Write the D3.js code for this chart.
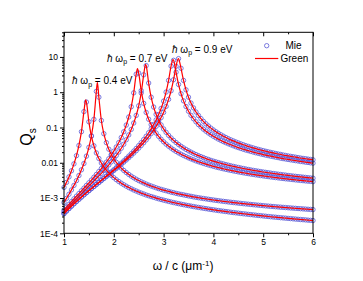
<!DOCTYPE html>
<html><head><meta charset="utf-8">
<script src="https://cdn.jsdelivr.net/npm/d3@7"></script>
<style>body{margin:0;background:#fff}text{font-family:"Liberation Sans",Arial,sans-serif}</style>
</head><body><svg id="c" width="363" height="281"></svg>
<script>
const omega = [1.00,1.05,1.10,1.15,1.20,1.25,1.30,1.35,1.40,1.45,1.50,1.55,1.60,1.65,1.70,1.75,1.80,1.85,1.90,1.95,
2.00,2.05,2.10,2.15,2.20,2.25,2.30,2.35,2.40,2.45,2.50,2.55,2.60,2.65,2.70,2.75,2.80,2.85,2.90,2.95,
3.00,3.05,3.10,3.15,3.20,3.25,3.30,3.35,3.40,3.45,3.50,3.55,3.60,3.65,3.70,3.75,3.80,3.85,3.90,3.95,
4.00,4.05,4.10,4.15,4.20,4.25,4.30,4.35,4.40,4.45,4.50,4.55,4.60,4.65,4.70,4.75,4.80,4.85,4.90,4.95,
5.00,5.05,5.10,5.15,5.20,5.25,5.30,5.35,5.40,5.45,5.50,5.55,5.60,5.65,5.70,5.75,5.80,5.85,5.90,5.95,6.00];

// hbar omega_p = 0.4 eV (two curves)
const qs04a = [2.00e-3,2.78e-3,3.97e-3,5.92e-3,9.31e-3,0.0159,0.0310,0.0760,0.282,0.526,0.145,0.0569,0.0303,0.0190,0.0132,9.85e-3,7.68e-3,6.21e-3,5.16e-3,4.38e-3,3.78e-3,
3.32e-3,2.94e-3,2.64e-3,2.38e-3,2.17e-3,1.98e-3,1.83e-3,1.69e-3,1.58e-3,1.47e-3,1.38e-3,1.30e-3,1.22e-3,1.16e-3,1.10e-3,1.05e-3,9.96e-4,9.51e-4,9.09e-4,8.71e-4,
8.36e-4,8.03e-4,7.72e-4,7.44e-4,7.18e-4,6.93e-4,6.70e-4,6.48e-4,6.28e-4,6.09e-4,5.91e-4,5.73e-4,5.57e-4,5.42e-4,5.27e-4,5.13e-4,5.00e-4,4.87e-4,4.75e-4,4.64e-4,
4.53e-4,4.42e-4,4.32e-4,4.23e-4,4.14e-4,4.05e-4,3.96e-4,3.88e-4,3.80e-4,3.73e-4,3.65e-4,3.58e-4,3.52e-4,3.45e-4,3.39e-4,3.33e-4,3.27e-4,3.21e-4,3.16e-4,3.10e-4,
3.05e-4,3.00e-4,2.95e-4,2.90e-4,2.86e-4,2.81e-4,2.77e-4,2.73e-4,2.69e-4,2.65e-4,2.61e-4,2.57e-4,2.53e-4,2.50e-4,2.46e-4,2.43e-4,2.40e-4,2.36e-4,2.33e-4,2.30e-4];
const qs04b = [7.49e-4,9.76e-4,1.28e-3,1.70e-3,2.28e-3,3.11e-3,4.35e-3,6.30e-3,9.53e-3,0.0154,0.0274,0.0579,0.170,1.06,0.723,0.158,0.0666,0.0372,0.0242,0.0172,0.0130,
0.0103,8.43e-3,7.07e-3,6.06e-3,5.29e-3,4.67e-3,4.17e-3,3.76e-3,3.42e-3,3.13e-3,2.89e-3,2.68e-3,2.49e-3,2.33e-3,2.19e-3,2.07e-3,1.95e-3,1.85e-3,1.76e-3,1.68e-3,
1.61e-3,1.54e-3,1.47e-3,1.42e-3,1.36e-3,1.31e-3,1.27e-3,1.23e-3,1.19e-3,1.15e-3,1.12e-3,1.08e-3,1.05e-3,1.02e-3,9.96e-4,9.70e-4,9.46e-4,9.23e-4,9.01e-4,8.80e-4,
8.60e-4,8.41e-4,8.23e-4,8.06e-4,7.90e-4,7.74e-4,7.59e-4,7.45e-4,7.31e-4,7.17e-4,7.05e-4,6.92e-4,6.80e-4,6.69e-4,6.58e-4,6.47e-4,6.37e-4,6.27e-4,6.18e-4,6.08e-4,
5.99e-4,5.91e-4,5.82e-4,5.74e-4,5.66e-4,5.58e-4,5.51e-4,5.44e-4,5.37e-4,5.30e-4,5.23e-4,5.17e-4,5.10e-4,5.04e-4,4.98e-4,4.92e-4,4.86e-4,4.81e-4,4.75e-4,4.70e-4];
// hbar omega_p = 0.7 eV
const qs07a = [4.58e-4,5.52e-4,6.63e-4,7.93e-4,9.47e-4,1.13e-3,1.34e-3,1.60e-3,1.90e-3,2.27e-3,2.70e-3,3.23e-3,3.88e-3,4.67e-3,5.64e-3,6.87e-3,8.42e-3,0.0104,0.0130,0.0165,0.0213,
0.0280,0.0374,0.0520,0.0757,0.117,0.198,0.387,0.959,3.25,3.49,1.11,0.483,0.267,0.171,0.120,0.0891,0.0695,0.0560,0.0464,0.0393,
0.0338,0.0295,0.0261,0.0233,0.0210,0.0191,0.0175,0.0161,0.0149,0.0138,0.0129,0.0121,0.0113,0.0107,0.0101,9.58e-3,9.11e-3,8.68e-3,8.29e-3,7.92e-3,
7.59e-3,7.29e-3,7.01e-3,6.75e-3,6.50e-3,6.28e-3,6.07e-3,5.87e-3,5.69e-3,5.51e-3,5.35e-3,5.20e-3,5.05e-3,4.92e-3,4.79e-3,4.67e-3,4.55e-3,4.44e-3,4.33e-3,4.23e-3,
4.14e-3,4.05e-3,3.96e-3,3.88e-3,3.80e-3,3.72e-3,3.65e-3,3.58e-3,3.51e-3,3.45e-3,3.39e-3,3.33e-3,3.27e-3,3.21e-3,3.16e-3,3.11e-3,3.06e-3,3.01e-3,2.97e-3,2.92e-3];
const qs07b = [4.01e-4,4.81e-4,5.74e-4,6.82e-4,8.09e-4,9.56e-4,1.13e-3,1.33e-3,1.57e-3,1.84e-3,2.17e-3,2.56e-3,3.02e-3,3.57e-3,4.23e-3,5.03e-3,6.01e-3,7.21e-3,8.71e-3,0.0106,0.0130,
0.0161,0.0202,0.0258,0.0335,0.0448,0.0615,0.0882,0.134,0.220,0.412,0.954,3.11,5.69,1.82,0.723,0.380,0.235,0.161,0.118,0.0912,
0.0729,0.0599,0.0504,0.0431,0.0375,0.0330,0.0294,0.0264,0.0239,0.0218,0.0200,0.0184,0.0171,0.0159,0.0149,0.0140,0.0131,0.0124,0.0117,0.0111,
0.0106,0.0101,9.67e-3,9.25e-3,8.87e-3,8.52e-3,8.20e-3,7.89e-3,7.61e-3,7.35e-3,7.11e-3,6.88e-3,6.66e-3,6.46e-3,6.27e-3,6.09e-3,5.93e-3,5.77e-3,5.62e-3,5.47e-3,
5.34e-3,5.21e-3,5.09e-3,4.97e-3,4.86e-3,4.75e-3,4.65e-3,4.55e-3,4.46e-3,4.37e-3,4.28e-3,4.20e-3,4.12e-3,4.05e-3,3.98e-3,3.91e-3,3.84e-3,3.77e-3,3.71e-3,3.65e-3];
// hbar omega_p = 0.9 eV
const qs09a = [3.59e-4,4.25e-4,5.01e-4,5.87e-4,6.85e-4,7.96e-4,9.23e-4,1.07e-3,1.23e-3,1.42e-3,1.63e-3,1.86e-3,2.14e-3,2.45e-3,2.80e-3,3.20e-3,3.67e-3,4.20e-3,4.82e-3,5.53e-3,6.34e-3,
7.30e-3,8.42e-3,9.74e-3,0.0113,0.0132,0.0154,0.0181,0.0214,0.0255,0.0306,0.0371,0.0454,0.0564,0.0711,0.0915,0.121,0.164,0.232,0.347,0.559,
1.01,2.16,5.50,8.03,3.69,1.66,0.907,0.569,0.392,0.288,0.221,0.177,0.145,0.121,0.104,0.0896,0.0786,0.0698,0.0624,0.0563,
0.0512,0.0468,0.0431,0.0398,0.0370,0.0345,0.0323,0.0303,0.0285,0.0269,0.0255,0.0242,0.0230,0.0220,0.0210,0.0201,0.0192,0.0185,0.0178,0.0171,
0.0165,0.0159,0.0154,0.0149,0.0144,0.0140,0.0135,0.0131,0.0128,0.0124,0.0121,0.0118,0.0115,0.0112,0.0109,0.0107,0.0104,0.0102,9.96e-3,9.75e-3];
const qs09b = [3.64e-4,4.31e-4,5.06e-4,5.92e-4,6.90e-4,8.00e-4,9.25e-4,1.07e-3,1.23e-3,1.41e-3,1.61e-3,1.85e-3,2.11e-3,2.40e-3,2.74e-3,3.12e-3,3.56e-3,4.06e-3,4.62e-3,5.28e-3,6.02e-3,
6.88e-3,7.87e-3,9.04e-3,0.0104,0.0120,0.0139,0.0161,0.0188,0.0220,0.0260,0.0308,0.0369,0.0445,0.0544,0.0672,0.0844,0.108,0.142,0.191,0.268,
0.396,0.628,1.10,2.26,5.43,8.95,4.77,2.16,1.17,0.723,0.493,0.360,0.275,0.219,0.179,0.149,0.127,0.110,0.0960,0.0850,
0.0760,0.0684,0.0621,0.0567,0.0521,0.0481,0.0446,0.0416,0.0389,0.0365,0.0343,0.0324,0.0306,0.0291,0.0276,0.0263,0.0251,0.0240,0.0230,0.0221,
0.0212,0.0204,0.0197,0.0190,0.0183,0.0177,0.0172,0.0166,0.0161,0.0156,0.0152,0.0148,0.0144,0.0140,0.0136,0.0133,0.0130,0.0127,0.0124,0.0121];

// resonance peak (line only) for each curve, same order as series
const peakOmega = [1.436, 1.67, 2.476, 2.638, 3.188, 3.295];
const peakQs = [0.61, 1.9, 4.7, 6.2, 8.4, 9.0];

const xTicks = [1,2,3,4,5,6];
const xMinorTicks = [1.5,2.5,3.5,4.5,5.5];
const yTicks = [1e-4,1e-3,0.01,0.1,1,10];
const yTickLabels = ["1E-4","1E-3","0.01","0.1","1","10"];
const annotations = ["0.4","0.7","0.9"];

const series = [qs04a, qs04b, qs07a, qs07b, qs09a, qs09b];

const svg = d3.select("#c");
const L = 64, R = 313, T = 32.3, B = 233.3;
const x = d3.scaleLinear().domain([1,6]).range([L,R]);
const y = d3.scaleLog().domain([1e-4,50]).range([B,T]);

const yMinor = [];
[1e-4,1e-3,1e-2,1e-1,1,10].forEach(d=>{for(let k=2;k<=9;k++){const v=d*k; if(v<=50) yMinor.push(v);}});

const mieColor = "#5a5ad6", lineColor = "#ff0000";

// markers
series.forEach((q)=>{
  svg.append("g").selectAll("circle").data(omega).join("circle")
    .attr("cx",(d)=>x(d)).attr("cy",(d,i)=>y(q[i])).attr("r",2.2)
    .attr("fill","none").attr("stroke",mieColor).attr("stroke-width",0.8);
});
// lines
const line = d3.line().x(d=>x(d[0])).y(d=>y(d[1])).curve(d3.curveMonotoneX);
series.forEach((q,k)=>{
  const pts = omega.map((d,i)=>[d,q[i]]);
  pts.push([peakOmega[k],peakQs[k]]);
  pts.sort((a,b)=>a[0]-b[0]);
  svg.append("path").attr("d",line(pts)).attr("fill","none")
    .attr("stroke",lineColor).attr("stroke-width",1.2);
});

// axes
function styleAxis(g){g.select(".domain").remove(); g.selectAll("text").attr("font-size",8.5).attr("font-family","Liberation Sans, Arial, sans-serif").attr("fill","#000");}
svg.append("g").attr("transform",`translate(0,${B})`)
  .call(d3.axisBottom(x).tickValues(xTicks).tickFormat(d3.format("d")).tickSize(4).tickPadding(2)).call(styleAxis);
svg.append("g").attr("transform",`translate(0,${B})`)
  .call(d3.axisBottom(x).tickValues(xMinorTicks).tickFormat("").tickSize(2)).call(styleAxis);
svg.append("g").attr("transform",`translate(0,${T})`)
  .call(d3.axisTop(x).tickValues(xTicks).tickFormat("").tickSize(-4)).call(styleAxis);
svg.append("g").attr("transform",`translate(0,${T})`)
  .call(d3.axisTop(x).tickValues(xMinorTicks).tickFormat("").tickSize(-2)).call(styleAxis);
svg.append("g").attr("transform",`translate(${L},0)`)
  .call(d3.axisLeft(y).tickValues(yTicks).tickFormat((d,i)=>yTickLabels[i]).tickSize(4).tickPadding(2)).call(styleAxis);
svg.append("g").attr("transform",`translate(${L},0)`)
  .call(d3.axisLeft(y).tickValues(yMinor).tickFormat("").tickSize(2)).call(styleAxis);

svg.append("rect").attr("x",L).attr("y",T).attr("width",R-L).attr("height",B-T)
  .attr("fill","none").attr("stroke","#000").attr("stroke-width",1);

// axis titles
const xt = svg.append("text").attr("x",183).attr("y",270).attr("text-anchor","middle").attr("font-size",12);
xt.append("tspan").text("ω / c (μm");
xt.append("tspan").attr("dy",-4.5).attr("font-size",8).text("-1");
xt.append("tspan").attr("dy",4.5).text(")");

const yt = svg.append("text").attr("transform","translate(32,137) rotate(-90)").attr("text-anchor","middle").attr("font-size",16);
yt.append("tspan").text("Q");
yt.append("tspan").attr("dy",4).attr("font-size",10).text("s");

// annotations
const annPos = [[72,84],[107,61.5],[172,52.5]];
annotations.forEach((a,i)=>{
  const t = svg.append("text").attr("x",annPos[i][0]).attr("y",annPos[i][1]).attr("font-size",10);
  t.append("tspan").attr("font-style","italic").text("ħ ");
  t.append("tspan").text("ω");
  t.append("tspan").attr("dy",2.5).attr("font-size",7).text("p");
  t.append("tspan").attr("dy",-2.5).text(" = " + a + " eV");
});

// legend
svg.append("circle").attr("cx",266.7).attr("cy",45.7).attr("r",2.2).attr("fill","none").attr("stroke",mieColor).attr("stroke-width",0.8);
svg.append("text").attr("x",285.5).attr("y",49.3).attr("font-size",10).text("Mie");
svg.append("line").attr("x1",255).attr("x2",278.3).attr("y1",58.5).attr("y2",58.5).attr("stroke",lineColor).attr("stroke-width",1.2);
svg.append("text").attr("x",280.5).attr("y",62.3).attr("font-size",10).text("Green");
</script></body></html>
